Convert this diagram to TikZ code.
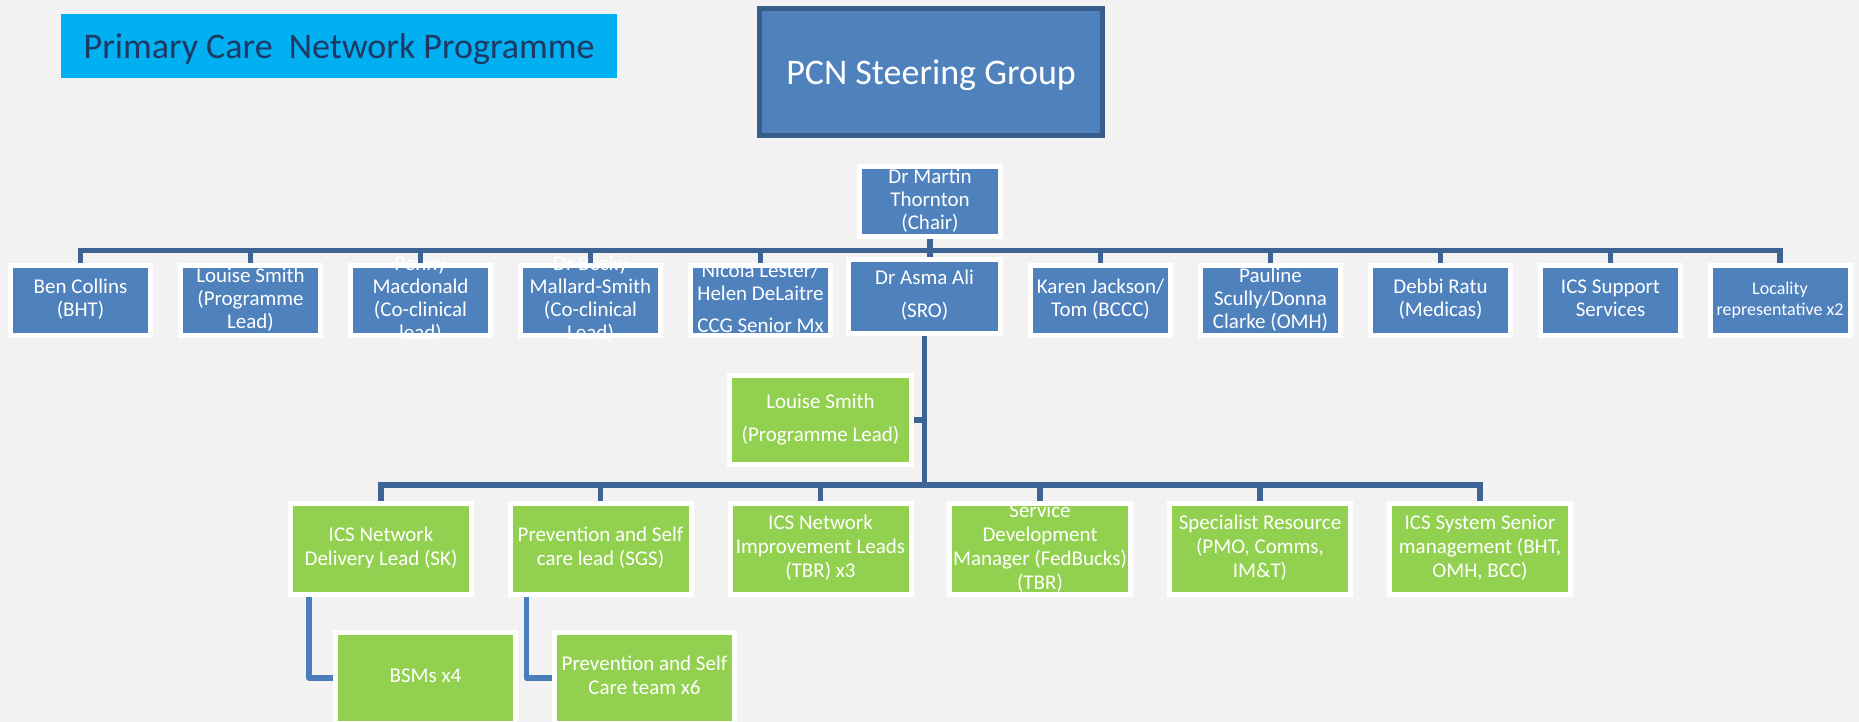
\documentclass[tikz,border=0pt]{standalone}
\usepackage{fontspec}
\setmainfont{Carlito}
\definecolor{bgc}{HTML}{F2F2F2}
\definecolor{titlecyan}{HTML}{00B0F0}
\definecolor{titletext}{HTML}{1F3864}
\definecolor{boxblue}{HTML}{4F81BD}
\definecolor{pcnborder}{HTML}{385D8A}
\definecolor{boxgreen}{HTML}{92D050}
\definecolor{connblue}{HTML}{3D6494}
\definecolor{connlight}{HTML}{4A7EBB}
\newsavebox\mlbox
\newcommand\mltext[1]{\sbox\mlbox{\begin{tabular}[b]{@{}c@{}}#1\end{tabular}}%
  \smash{\makebox[0pt]{\raisebox{\dimexpr(\dp\mlbox-\ht\mlbox)/2\relax}{\usebox\mlbox}}}}
\begin{document}
\begin{tikzpicture}[x=1pt,y=-1pt,
  conn/.style={draw=connblue,line width=5.5pt},
  conntwo/.style={draw=connlight,line width=5.5pt,line join=round},
  rbox/.style={draw=white,line width=5pt,fill=boxblue,text=white,inner sep=0pt,
    minimum width=140pt,minimum height=70pt,font=\fontsize{21}{23}\selectfont},
  gbox/.style={rbox,fill=boxgreen,minimum width=181pt,minimum height=91pt,
    font=\fontsize{21}{24}\selectfont},
  titlebox/.style={fill=titlecyan,text=titletext,inner sep=0pt,
    minimum width=556pt,minimum height=64pt,text depth=0pt,
    font=\fontsize{36}{43}\selectfont},
  pcnbox/.style={draw=pcnborder,line width=5pt,fill=boxblue,text=white,inner sep=0pt,
    minimum width=343pt,minimum height=127pt,text depth=0pt,
    font=\fontsize{36}{43}\selectfont}]
\useasboundingbox (0,0) rectangle (1859,722);
\clip (0,0) rectangle (1859,722);
\fill[bgc] (0,0) rectangle (1859,722);

\node[titlebox] (title) at (339,46) {Primary Care\ \ Network Programme};
\node[pcnbox] (pcn) at (931,72) {PCN Steering Group};

\node[rbox,minimum width=141pt] (chair) at (930,201.5) {\mltext{Dr Martin\\Thornton\\(Chair)}};

\node[rbox] (ben) at (80.5,300.5) {\mltext{Ben Collins\\(BHT)}};
\node[rbox] (lou) at (250.5,300.5) {\mltext{Louise Smith\\(Programme\\Lead)}};
\node[rbox] (pen) at (420.5,300.5) {\mltext{Penny\\Macdonald\\(Co-clinical\\lead)}};
\node[rbox] (bec) at (590.5,300.5) {\mltext{Dr Becky\\Mallard-Smith\\(Co-clinical\\Lead)}};
\node[rbox] (nic) at (760.5,300.5) {\mltext{Nicola Lester/\\Helen DeLaitre\\[9pt]CCG Senior Mx}};
\node[rbox,minimum width=152pt,minimum height=74pt] (asma) at (924.5,296.5) {\mltext{Dr Asma Ali\\[10pt](SRO)}};
\node[rbox] (kar) at (1100.5,300.5) {\mltext{Karen Jackson/\\Tom (BCCC)}};
\node[rbox] (pau) at (1270.5,300.5) {\mltext{Pauline\\Scully/Donna\\Clarke (OMH)}};
\node[rbox] (deb) at (1440.5,300.5) {\mltext{Debbi Ratu\\(Medicas)}};
\node[rbox] (ics) at (1610.5,300.5) {\mltext{ICS Support\\Services}};
\node[rbox,font=\fontsize{18}{21}\selectfont] (loc) at (1780,300.5) {\mltext{Locality\\representative x2}};

\node[gbox,minimum width=182pt,minimum height=89pt] (lsg) at (820.5,420) {\mltext{Louise Smith\\[9pt](Programme Lead)}};

\node[gbox] (r1) at (381,549) {\mltext{ICS Network\\Delivery Lead (SK)}};
\node[gbox] (r2) at (600.5,549) {\mltext{Prevention and Self\\care lead (SGS)}};
\node[gbox] (r3) at (820.5,549) {\mltext{ICS Network\\Improvement Leads\\(TBR) x3}};
\node[gbox] (r4) at (1040,549) {\mltext{Service\\Development\\Manager (FedBucks)\\(TBR)}};
\node[gbox] (r5) at (1260,549) {\mltext{Specialist Resource\\(PMO, Comms,\\IM\&T)}};
\node[gbox] (r6) at (1480,549) {\mltext{ICS System Senior\\management (BHT,\\OMH, BCC)}};

\node[gbox,minimum width=180pt] (bsm) at (425.5,678) {\mltext{BSMs x4}};
\node[gbox,minimum width=180pt] (pst) at (644.5,678) {\mltext{Prevention and Self\\Care team x6}};

% top level connectors
\coordinate (b1) at (930,250.5);
\draw[conn] (chair.south) -- (chair.south |- b1);
\draw[conn] (ben.north) -- (ben.north |- b1) -- (loc.north |- b1) -- (loc.north);
\foreach \n in {lou,pen,bec,nic,kar,pau,deb,ics}
  \draw[conn] (\n.north) -- (\n.north |- b1);
\draw[conn] (b1) -- (b1 |- asma.north);

% second level
\coordinate (b2) at (924.5,485);
\draw[conn] (asma.south) -- (asma.south |- b2);
\draw[conn] (lsg.east) -- (lsg.east -| asma.south);
\draw[conn] (r1.north) -- (r1.north |- b2) -- (r6.north |- b2) -- (r6.north);
\foreach \n in {r2,r3,r4,r5}
  \draw[conn] (\n.north) -- (\n.north |- b2);

% third level
\draw[conntwo] ([xshift=21pt]r1.south west) |- (bsm.west);
\draw[conntwo] ([xshift=19pt]r2.south west) |- (pst.west);
\end{tikzpicture}
\end{document}
